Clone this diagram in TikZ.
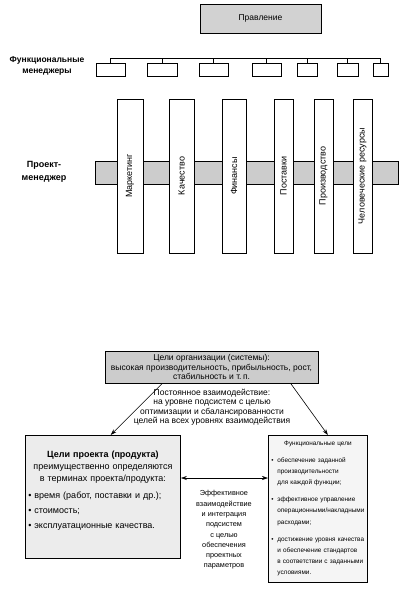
\documentclass[tikz,border=0pt]{standalone}
\usepackage{fontspec}
\setmainfont{Liberation Sans}
\usetikzlibrary{arrows.meta,calc}

% bullet line with hanging indent
\newcommand{\goalitem}[1]{\par\hangindent=6pt\hangafter=1\noindent\hbox to 6pt{\textbullet\hfil}#1\par}

\begin{document}
\begin{tikzpicture}[x=1pt,y=-1pt,
  fmbox/.style={draw, line width=.7pt, inner sep=0pt, minimum height=13pt},
  column/.style={draw, line width=.8pt, fill=white, rotate=90, minimum width=154pt, inner sep=0pt, font=\fontsize{9}{10}\selectfont},
  label/.style={align=center, font=\bfseries\fontsize{8.5}{10.5}\selectfont},
  goalbox/.style={draw, line width=.8pt, anchor=north west, inner sep=3pt, align=left},
  tip/.style={-{Stealth[length=6pt,width=4pt]}, line width=.6pt}]
\useasboundingbox (0,0) rectangle (404,600);

% board and functional managers
\node[draw, line width=.7pt, fill=gray!35, minimum width=121pt, minimum height=29pt, font=\fontsize{8.5}{10}\selectfont] (board) at (260.5,18.5) {Правление};
\coordinate (bus) at (0,58);
\node[fmbox, minimum width=29pt] (fm1) at (110.5,69.5) {};
\node[fmbox, minimum width=30pt] (fm2) at (162,69.5) {};
\node[fmbox, minimum width=29pt] (fm3) at (213.5,69.5) {};
\node[fmbox, minimum width=29pt] (fm4) at (266.5,69.5) {};
\node[fmbox, minimum width=20pt] (fm5) at (307,69.5) {};
\node[fmbox, minimum width=21pt] (fm6) at (347.5,69.5) {};
\node[fmbox, minimum width=15pt] (fm7) at (380.5,69.5) {};
\draw[line width=.6pt] (fm1.north) |- (bus -| fm7.north) -- (fm7.north);
\foreach \i in {2,...,6}
  \draw[line width=.6pt] (fm\i.north) -- (fm\i.north |- bus);
\node[label] (fmlabel) at (47,66) {Функциональные\\менеджеры};

% project manager across the functions
\node[draw, line width=.7pt, fill=gray!40, minimum width=303pt, minimum height=23pt] (bar) at (246.5,172.5) {};
\node[column, minimum height=26pt] (marketing) at (130,176) {Маркетинг};
\node[column, minimum height=25pt] (quality) at (181.5,176) {Качество};
\node[column, minimum height=24pt] (finance) at (234,176) {Финансы};
\node[column, minimum height=19pt] (supply) at (283.5,176) {Поставки};
\node[column, minimum height=19pt] (production) at (323.5,176) {Производство};
\node[column, minimum height=19pt] (hr) at (362.5,176) {Человеческие ресурсы};
\node[label, font=\bfseries\fontsize{9}{13}\selectfont] (pmlabel) at (44,172) {Проект-\\менеджер};

% goals
\node[draw, line width=.9pt, fill=gray!40, minimum width=213pt, minimum height=30pt, align=center, font=\fontsize{8.5}{9.5}\selectfont] (org) at (211.5,367) {Цели организации (системы):\\высокая производительность, прибыльность, рост,\\стабильность и т.\,п.};
\node[align=center, font=\fontsize{8.5}{9.5}\selectfont] (interact) at (212,407) {Постоянное взаимодействие:\\на уровне подсистем с целью\\оптимизации и сбалансированности\\целей на всех уровнях взаимодействия};

\node[goalbox, fill=gray!15, minimum width=155pt, minimum height=123pt, text width=149pt, font=\fontsize{9}{12}\selectfont] (proj) at (25,435) {%
  {\centering\textbf{Цели проекта (продукта)}\\преимущественно определяются\\в терминах проекта/продукта:\par}
  \vspace{5pt}\goalitem{время (работ, поставки и др.);}
  \vspace{3pt}\goalitem{стоимость;}
  \vspace{3pt}\goalitem{эксплуатационные качества.}
  \vspace{2pt}\hbox{}};
\node[goalbox, fill=gray!8, minimum width=99pt, minimum height=147pt, text width=93pt, font=\fontsize{6.4}{11.2}\selectfont] (func) at (268,435) {%
  \raggedright{\centering Функциональные цели\par}
  \vspace{5pt}\goalitem{обеспечение заданной\newline производительности\newline для каждой функции;}
  \vspace{6pt}\goalitem{эффективное управление\newline операционными/накладными\newline расходами;}
  \vspace{6pt}\goalitem{достижение уровня качества\newline и обеспечение стандартов\newline в соответствии с заданными\newline условиями.}};
\node[align=center, font=\fontsize{7.3}{10.3}\selectfont] (mid) at (224,530) {Эффективное\\взаимодействие\\и интеграция\\подсистем\\с целью\\обеспечения\\проектных\\параметров};

\draw[tip] ($(org.south west)!0.27!(org.south east)$) -- ($(proj.north west)!0.55!(proj.north east)$);
\draw[tip] ($(org.south west)!0.87!(org.south east)$) -- ($(func.north west)!0.6!(func.north east)$);
\coordinate (link) at (224,478);
\draw[{Stealth[length=6pt,width=4pt]}-{Stealth[length=6pt,width=4pt]}, line width=.6pt] (proj.east |- link) -- (func.west |- link);
\end{tikzpicture}
\end{document}
